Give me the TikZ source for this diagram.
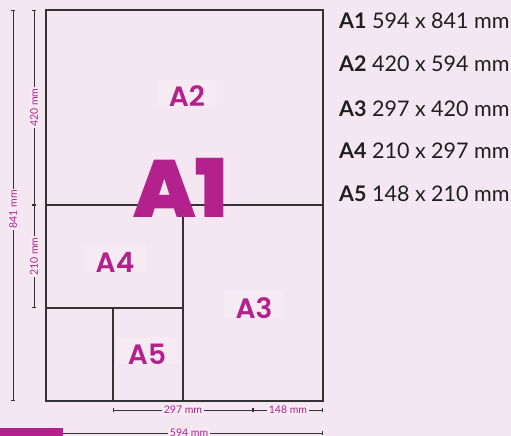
\documentclass[tikz,border=0pt]{standalone}
\usepackage{fontspec}
\setmainfont{Lato}
\newfontfamily\lblfont{Poppins SemiBold}
\newfontfamily\heavyfont{Poppins Black}
\usetikzlibrary{arrows.meta}
\definecolor{bgcol}{HTML}{F4E7F1}
\definecolor{boxcol}{HTML}{F6EBF3}
\definecolor{mag}{HTML}{B3228C}
\definecolor{linecol}{HTML}{333333}
\tikzset{
 sheet/.style={draw=linecol, line width=1.2pt},
 dimline/.style={draw=linecol, line width=0.9pt, {Bar[width=4pt,line width=1pt]}-{Bar[width=4pt,line width=1pt]}},
 dimlabel/.style={fill=boxcol, text=mag, font=\fontsize{10.5}{12}\selectfont, inner xsep=1.5pt, inner ysep=1pt},
 sizelabel/.style={fill=boxcol, text=mag, font=\lblfont\fontsize{28}{30}\selectfont, inner xsep=12pt, inner ysep=0pt, text height=27pt, text depth=0pt, anchor=base},
 biglabel/.style={text=mag, font=\heavyfont\fontsize{81}{81}\selectfont, inner sep=0pt, anchor=base},
 listrow/.style={anchor=base west, inner sep=0pt, font=\fontsize{21.5}{24}\selectfont, text=black!88},
}
\begin{document}
\begin{tikzpicture}[x=1pt,y=-1pt]
\fill[bgcol] (0,0) rectangle (511,436);
\useasboundingbox (0,0) rectangle (511,436);
% sheet corners
\coordinate (TL) at (46,10);
\coordinate (TR) at (323,10);
\coordinate (BR) at (323,401);
\coordinate (BL) at (46,401);
\coordinate (ML) at (46,205);
\coordinate (MR) at (323,205);
\coordinate (A4T) at (183,205);
\coordinate (A4B) at (183,401);
\coordinate (A4L) at (46,308);
\coordinate (A4R) at (183,308);
\coordinate (A5T) at (113,308);
\coordinate (A5B) at (113,401);
% size labels (boxes behind)
\node[sizelabel] (A2) at (187,106.7) {A2};
\node[sizelabel] (A4) at (115,272) {A4};
\node[sizelabel] (A3) at (254,318.3) {A3};
\node[sizelabel] (A5) at (147,364.3) {A5};
% sheet lines
\draw[sheet] (TL) rectangle (BR);
\draw[sheet] (ML) -- (MR);
\draw[sheet] (A4T) -- (A4B);
\draw[sheet] (A4L) -- (A4R);
\draw[sheet] (A5T) -- (A5B);
% big label
\node[biglabel] (A1) at (180.5,217) {A1};
% dimension coordinates
\coordinate (d841a) at (13,10);
\coordinate (d841b) at (13,401);
\coordinate (d420a) at (34,10);
\coordinate (d420b) at (34,205);
\coordinate (d210b) at (34,308);
\coordinate (d297a) at (113,410);
\coordinate (d297b) at (253,410);
\coordinate (d148b) at (323,410);
\coordinate (d594a) at (63,433);
\coordinate (d594b) at (323,433);
\draw[dimline] (d841a) -- node[dimlabel, rotate=90, pos=0.51] (l841) {841 mm} (d841b);
\draw[dimline] (d420a) -- node[dimlabel, rotate=90] (l420) {420 mm} (d420b);
\draw[dimline] (d420b) -- node[dimlabel, rotate=90] (l210) {210 mm} (d210b);
\draw[dimline] (d297a) -- node[dimlabel] (l297) {297 mm} (d297b);
\draw[dimline] (d297b) -- node[dimlabel] (l148) {148 mm} (d148b);
\draw[dimline, {-Bar[width=4pt,line width=1pt]}] (d594a) -- node[dimlabel, pos=0.485] (l594) {594 mm} (d594b);
\fill[mag] (0,428) rectangle (63,436);
% list
\node[listrow] (r1) at (339,28.3) {\textbf{A1} 594 x 841 mm};
\node[listrow] (r2) at (339,71) {\textbf{A2} 420 x 594 mm};
\node[listrow] (r3) at (339,116) {\textbf{A3} 297 x 420 mm};
\node[listrow] (r4) at (339,158.3) {\textbf{A4} 210 x 297 mm};
\node[listrow] (r5) at (339,201) {\textbf{A5} 148 x 210 mm};
\end{tikzpicture}
\end{document}
